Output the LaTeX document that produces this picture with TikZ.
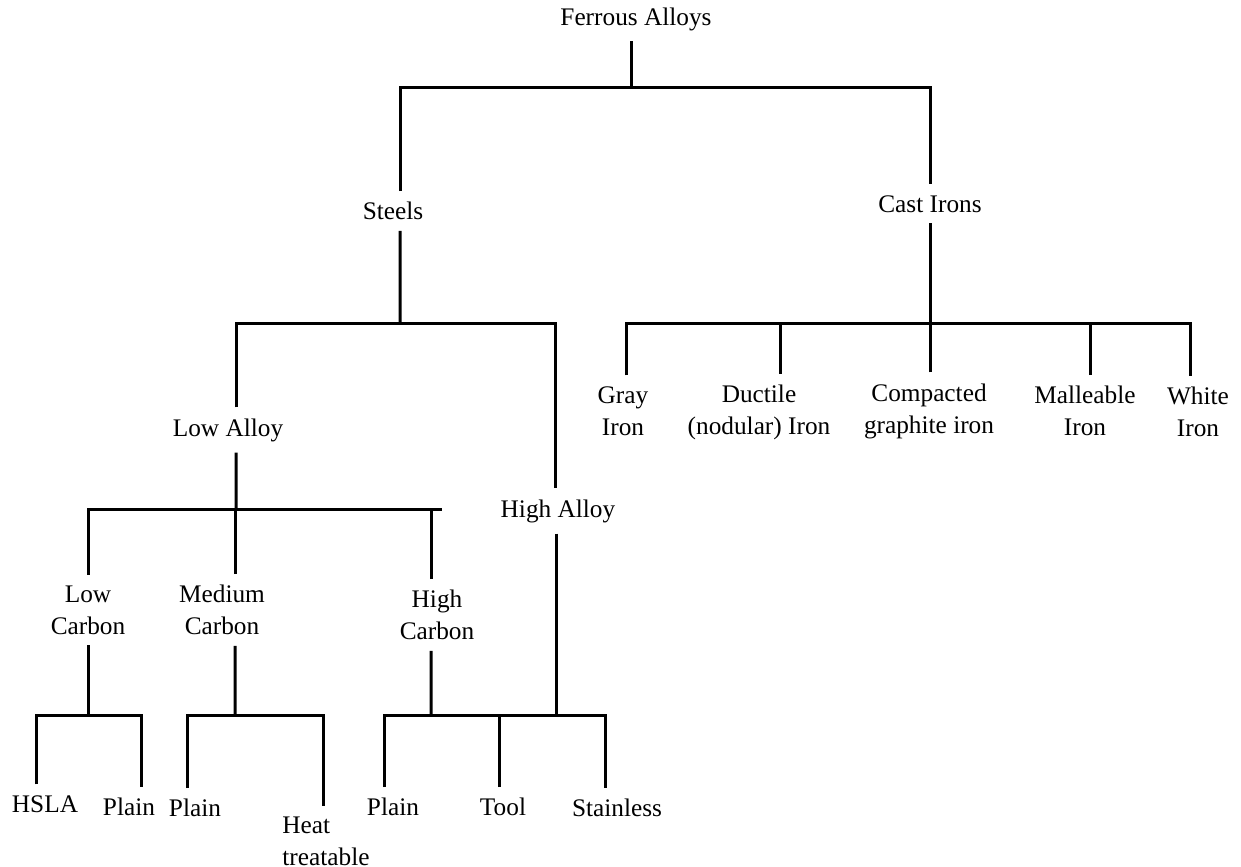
\documentclass[tikz,border=0pt]{standalone}
\usepackage{fontspec}
\setmainfont{Liberation Serif}
\usetikzlibrary{calc}

\begin{document}
\begin{tikzpicture}[line width=0.03cm,
    lbl/.style={inner sep=0pt,outer sep=0.11cm,font=\fontsize{7.2}{9.1}\selectfont}]
            \useasboundingbox (0,0) rectangle (12.41,-8.67);
            % the names of the classes
            \node[lbl] (fa) at (6.36,-0.19) {Ferrous Alloys};
            \node[lbl] (steels) at (3.93,-2.11) {Steels};
            \node[lbl] (cast) at (9.30,-2.04) {Cast Irons};
            \node[lbl] (lowalloy) at (2.28,-4.30) {Low Alloy};
            \node[lbl] (highalloy) at (5.58,-5.11) {High Alloy};
            \node[lbl,align=center] (gray) at (6.23,-4.11) {Gray\\Iron};
            \node[lbl,align=center] (ductile) at (7.59,-4.12) {Ductile\\(nodular) Iron};
            \node[lbl,align=center] (compacted) at (9.29,-4.11) {Compacted\\graphite iron};
            \node[lbl,align=center] (malleable) at (10.85,-4.11) {Malleable\\Iron};
            \node[lbl,align=center] (white) at (11.98,-4.12) {White\\Iron};
            \node[lbl,align=center] (lowcarbon) at (0.88,-6.10) {Low\\Carbon};
            \node[lbl,align=center] (medcarbon) at (2.22,-6.10) {Medium\\Carbon};
            \node[lbl,align=center] (highcarbon) at (4.37,-6.15) {High\\Carbon};
            \node[lbl] (hsla) at (0.45,-8.04) {HSLA};
            \node[lbl] (plainlc) at (1.29,-8.07) {Plain};
            \node[lbl] (plainmc) at (1.95,-8.08) {Plain};
            \node[lbl,align=left] (heat) at (3.26,-8.41) {Heat\\treatable};
            \node[lbl] (plainhc) at (3.93,-8.07) {Plain};
            \node[lbl] (tool) at (5.03,-8.07) {Tool};
            \node[lbl] (stainless) at (6.17,-8.08) {Stainless};
            % the bars
            \coordinate (top-bar) at (6.31,-0.88);
            \coordinate (steel-bar) at (4.00,-3.24);
            \coordinate (cast-bar) at (9.30,-3.24);
            \coordinate (low-bar) at (2.36,-5.10);
            \coordinate (low-bar-end) at (4.42,-5.10);
            \coordinate (lc-bar) at (0.88,-7.16);
            \coordinate (mc-bar) at (2.35,-7.16);
            \coordinate (hc-bar) at (4.31,-7.16);
            % the connectors
            \draw (fa.south -| top-bar) -- (top-bar);
            \draw ([xshift=0.07cm]steels.north) |- (top-bar) -| (cast.north);
            \draw ([xshift=0.07cm]steels.south) -- (steel-bar);
            \draw ([xshift=0.08cm]lowalloy.north) |- (steel-bar) -| ([xshift=-0.03cm]highalloy.north);
            \draw (cast.south) -- (cast-bar);
            \draw ([xshift=0.03cm]gray.north) |- (cast-bar) -| ([xshift=-0.08cm]white.north);
            \foreach \n/\s in {ductile/0.21,compacted/0.01,malleable/0.05}
                \draw ([xshift=\s cm]\n.north) -- ([xshift=\s cm]\n.north |- cast-bar);
            \draw ([xshift=0.08cm]lowalloy.south) -- (low-bar);
            \draw (lowcarbon.north) |- (low-bar-end);
            \draw ([xshift=0.13cm]medcarbon.north) -- ([xshift=0.13cm]medcarbon.north |- low-bar);
            \draw ([xshift=-0.06cm]highcarbon.north) -- ([xshift=-0.06cm]highcarbon.north |- low-bar);
            \draw (lowcarbon.south) -- (lc-bar);
            \draw ([xshift=-0.09cm]hsla.north) |- (lc-bar) -| ([xshift=0.12cm]plainlc.north);
            \draw ([xshift=0.13cm]medcarbon.south) -- (mc-bar);
            \draw ([xshift=-0.08cm]plainmc.north) |- (mc-bar) -| ([xshift=-0.03cm]heat.north);
            \draw ([xshift=-0.06cm]highcarbon.south) -- (hc-bar);
            \draw ([xshift=-0.02cm]highalloy.south) -- ([xshift=-0.02cm]highalloy.south |- hc-bar);
            \draw ([xshift=-0.09cm]plainhc.north) |- (hc-bar) -| ([xshift=-0.12cm]stainless.north);
            \draw ([xshift=-0.04cm]tool.north) -- ([xshift=-0.04cm]tool.north |- hc-bar);
        \end{tikzpicture}
\end{document}
